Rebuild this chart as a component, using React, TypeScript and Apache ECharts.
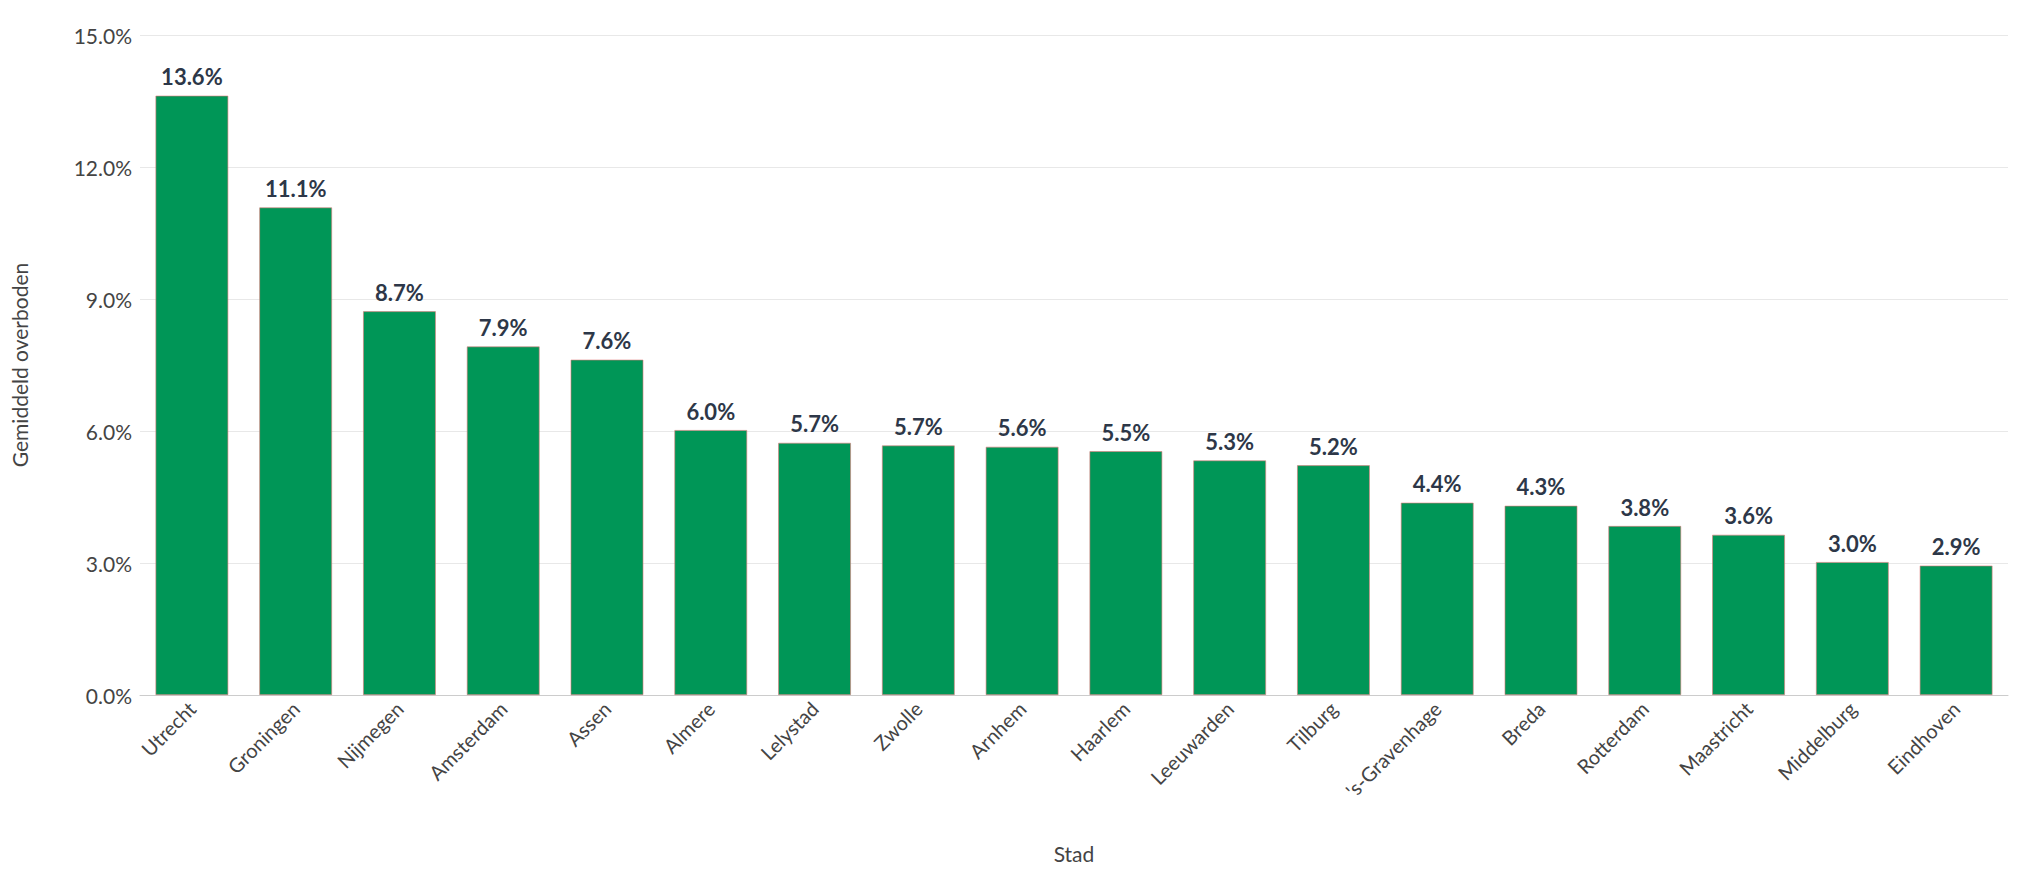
import { useEffect, useRef } from 'react'
import * as echarts from 'echarts'

const cities = ['Utrecht', 'Groningen', 'Nijmegen', 'Amsterdam', 'Assen', 'Almere', 'Lelystad', 'Zwolle', 'Arnhem', 'Haarlem', 'Leeuwarden', 'Tilburg', "'s-Gravenhage", 'Breda', 'Rotterdam', 'Maastricht', 'Middelburg', 'Eindhoven']
const overbid = [13.62, 11.08, 8.72, 7.92, 7.62, 6.02, 5.73, 5.67, 5.64, 5.54, 5.33, 5.22, 4.37, 4.3, 3.84, 3.64, 3.02, 2.94]

export default function App() {
  const chartRef = useRef<HTMLDivElement>(null)

  useEffect(() => {
    document.body.style.margin = '0'
    if (!chartRef.current) return
    const chart = echarts.init(chartRef.current, null, { renderer: 'svg' })
    chart.setOption({
      animation: false,
      textStyle: { fontFamily: 'Lato' },
      grid: { left: 140, right: 30, top: 35, bottom: 193 },
      xAxis: {
        type: 'category',
        data: cities,
        name: 'Stad',
        nameLocation: 'middle',
        nameGap: 148,
        nameTextStyle: { fontSize: 21, color: '#444' },
        axisTick: { show: false },
        axisLine: { lineStyle: { color: '#ccc' } },
        axisLabel: { rotate: 45, fontSize: 20, color: '#444', margin: 10 }
      },
      yAxis: {
        type: 'value',
        min: 0,
        max: 15,
        interval: 3,
        name: 'Gemiddeld overboden',
        nameLocation: 'middle',
        nameGap: 110,
        nameTextStyle: { fontSize: 21, color: '#444' },
        axisLabel: { fontSize: 21, color: '#444', formatter: (v: number) => v.toFixed(1) + '%' },
        splitLine: { lineStyle: { color: '#e8e8e8' } }
      },
      series: [
        {
          type: 'bar',
          data: overbid,
          barCategoryGap: '30%',
          itemStyle: { color: '#009657', borderColor: '#e07a7a', borderWidth: 0.6 },
          label: {
            show: true,
            position: 'top',
            fontSize: 22,
            fontWeight: 'bold',
            color: '#2d3748',
            distance: 8,
            formatter: (p: any) => p.value.toFixed(1) + '%'
          }
        }
      ]
    })
    return () => chart.dispose()
  }, [])

  return <div ref={chartRef} style={{ width: 2038, height: 888 }} />
}
